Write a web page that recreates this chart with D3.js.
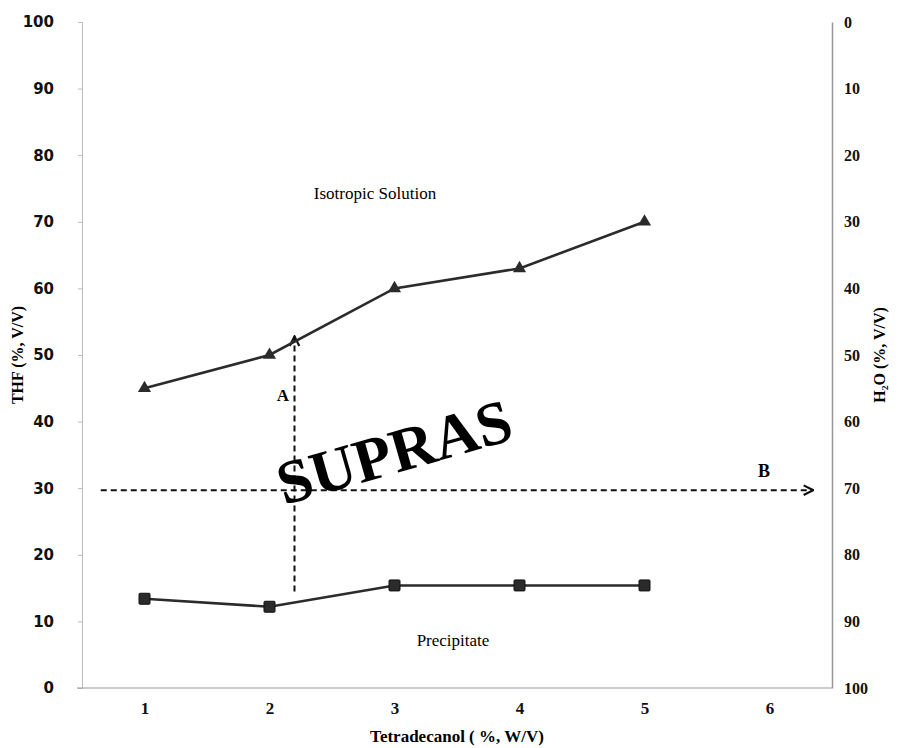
<!DOCTYPE html>
<html>
  <head>
    <meta charset="UTF-8" />
    <script src="https://cdn.jsdelivr.net/npm/d3@7"></script>
    <style>
      body { margin: 0; background: #fff; }
    </style>
  </head>
  <body>
    <svg></svg>
    <script>
      // data
      const tetradecanol = [1, 2, 3, 4, 5]
      const upperTHF = [45, 50, 60, 63, 70] // isotropic boundary
      const lowerTHF = [13.4, 12.2, 15.4, 15.4, 15.4] // precipitate boundary
      const xTicks = [1, 2, 3, 4, 5, 6]
      const yTicks = [0, 10, 20, 30, 40, 50, 60, 70, 80, 90, 100]
      const arrowA = [[2.2, 14.5], [2.2, 52.8]]
      const arrowB = [[0.65, 29.7], [6.35, 29.7]]

      const width = 901
      const height = 748
      const margin = { top: 22, right: 69, bottom: 60, left: 82 }

      const svg = d3
        .select('svg')
        .attr('width', width)
        .attr('height', height)
        .attr('viewBox', [0, 0, width, height])

      const x = d3.scaleLinear([0.5, 6.5], [margin.left, width - margin.right])
      const y = d3.scaleLinear([0, 100], [height - margin.bottom, margin.top])
      const y2 = d3.scaleLinear([0, 100], [margin.top, height - margin.bottom])

      const serif = '"Liberation Serif", "Times New Roman", serif'

      // left axis
      svg
        .append('g')
        .attr('transform', `translate(${margin.left},0)`)
        .call(d3.axisLeft(y).tickValues(yTicks).tickSize(4).tickPadding(24))
        .call((g) => g.select('.domain').attr('stroke', '#bbb'))
        .call((g) => g.selectAll('.tick line').attr('stroke', '#bbb'))
        .call((g) =>
          g
            .selectAll('.tick text')
            .attr('fill', '#111')
            .style('font', 'bold 15px "DejaVu Sans", Verdana, sans-serif')
        )

      // right axis
      svg
        .append('g')
        .attr('transform', `translate(${width - margin.right},0)`)
        .call(d3.axisRight(y2).tickValues(yTicks).tickSize(0).tickPadding(12))
        .call((g) => g.select('.domain').attr('stroke', '#999').attr('stroke-width', 1.5))
        .call((g) =>
          g
            .selectAll('.tick text')
            .attr('fill', '#111')
            .style('font', `bold 16px ${serif}`)
        )

      // bottom axis
      svg
        .append('g')
        .attr('transform', `translate(0,${y(0)})`)
        .call(
          d3.axisBottom(x).tickValues(xTicks).tickFormat(d3.format('d')).tickSize(0).tickPadding(14)
        )
        .call((g) => g.select('.domain').attr('stroke', '#999').attr('d', `M${margin.left - 5},0H${width - margin.right}`))
        .call((g) =>
          g
            .selectAll('.tick text')
            .attr('fill', '#111')
            .style('font', `bold 17px ${serif}`)
        )

      // axis titles
      svg
        .append('text')
        .attr('transform', `translate(23,${(y(0) + y(100)) / 2}) rotate(-90)`)
        .attr('text-anchor', 'middle')
        .style('font', `bold 16px ${serif}`)
        .text('THF (%, V/V)')

      svg
        .append('text')
        .attr('transform', `translate(885,${(y(0) + y(100)) / 2}) rotate(-90)`)
        .attr('text-anchor', 'middle')
        .style('font', `bold 16px ${serif}`)
        .text('H₂O (%, V/V)')

      svg
        .append('text')
        .attr('x', (x(0.5) + x(6.5)) / 2)
        .attr('y', 742)
        .attr('text-anchor', 'middle')
        .style('font', `bold 17px ${serif}`)
        .text('Tetradecanol ( %, W/V)')

      // arrow markers
      const defs = svg.append('defs')
      defs
        .append('marker')
        .attr('id', 'open')
        .attr('viewBox', '0 0 10 10')
        .attr('refX', 9)
        .attr('refY', 5)
        .attr('markerWidth', 12)
        .attr('markerHeight', 12)
        .attr('markerUnits', 'userSpaceOnUse')
        .attr('orient', 'auto')
        .append('path')
        .attr('d', 'M1,1L9,5L1,9')
        .attr('fill', 'none')
        .attr('stroke', '#111')
        .attr('stroke-width', 1.8)

      const line = d3
        .line()
        .x((d) => x(d[0]))
        .y((d) => y(d[1]))

      svg
        .append('g')
        .attr('fill', 'none')
        .attr('stroke', '#111')
        .attr('stroke-width', 2)
        .attr('stroke-dasharray', '6,4')
        .selectAll('path')
        .data([arrowA, arrowB])
        .join('path')
        .attr('d', line)
        .attr('marker-end', 'url(#open)')

      // series lines
      const upper = tetradecanol.map((t, i) => [t, upperTHF[i]])
      const lower = tetradecanol.map((t, i) => [t, lowerTHF[i]])

      svg
        .append('g')
        .attr('fill', 'none')
        .attr('stroke', '#2b2b2b')
        .attr('stroke-width', 2.6)
        .selectAll('path')
        .data([upper, lower])
        .join('path')
        .attr('d', line)

      svg
        .append('g')
        .attr('fill', '#2b2b2b')
        .selectAll('path')
        .data(upper)
        .join('path')
        .attr('transform', (d) => `translate(${x(d[0])},${y(d[1])})`)
        .attr('d', d3.symbol(d3.symbolTriangle, 75))

      svg
        .append('g')
        .attr('fill', '#2b2b2b')
        .attr('stroke', '#111')
        .selectAll('rect')
        .data(lower)
        .join('rect')
        .attr('x', (d) => x(d[0]) - 5.5)
        .attr('y', (d) => y(d[1]) - 5.5)
        .attr('width', 11)
        .attr('height', 11)
        .attr('rx', 1)

      // region labels
      svg
        .append('text')
        .attr('x', 375)
        .attr('y', 199)
        .attr('text-anchor', 'middle')
        .style('font', `17px ${serif}`)
        .text('Isotropic Solution')

      svg
        .append('text')
        .attr('x', 453)
        .attr('y', 646)
        .attr('text-anchor', 'middle')
        .style('font', `17px ${serif}`)
        .text('Precipitate')

      svg
        .append('text')
        .attr('x', 283)
        .attr('y', 401)
        .attr('text-anchor', 'middle')
        .style('font', `bold 17px ${serif}`)
        .text('A')

      svg
        .append('text')
        .attr('x', 764)
        .attr('y', 477)
        .attr('text-anchor', 'middle')
        .style('font', `bold 18px ${serif}`)
        .text('B')

      svg
        .append('text')
        .attr('transform', 'translate(400,472) rotate(-16)')
        .attr('text-anchor', 'middle')
        .style('font', `bold 62px ${serif}`)
        .text('SUPRAS')
    </script>
  </body>
</html>
